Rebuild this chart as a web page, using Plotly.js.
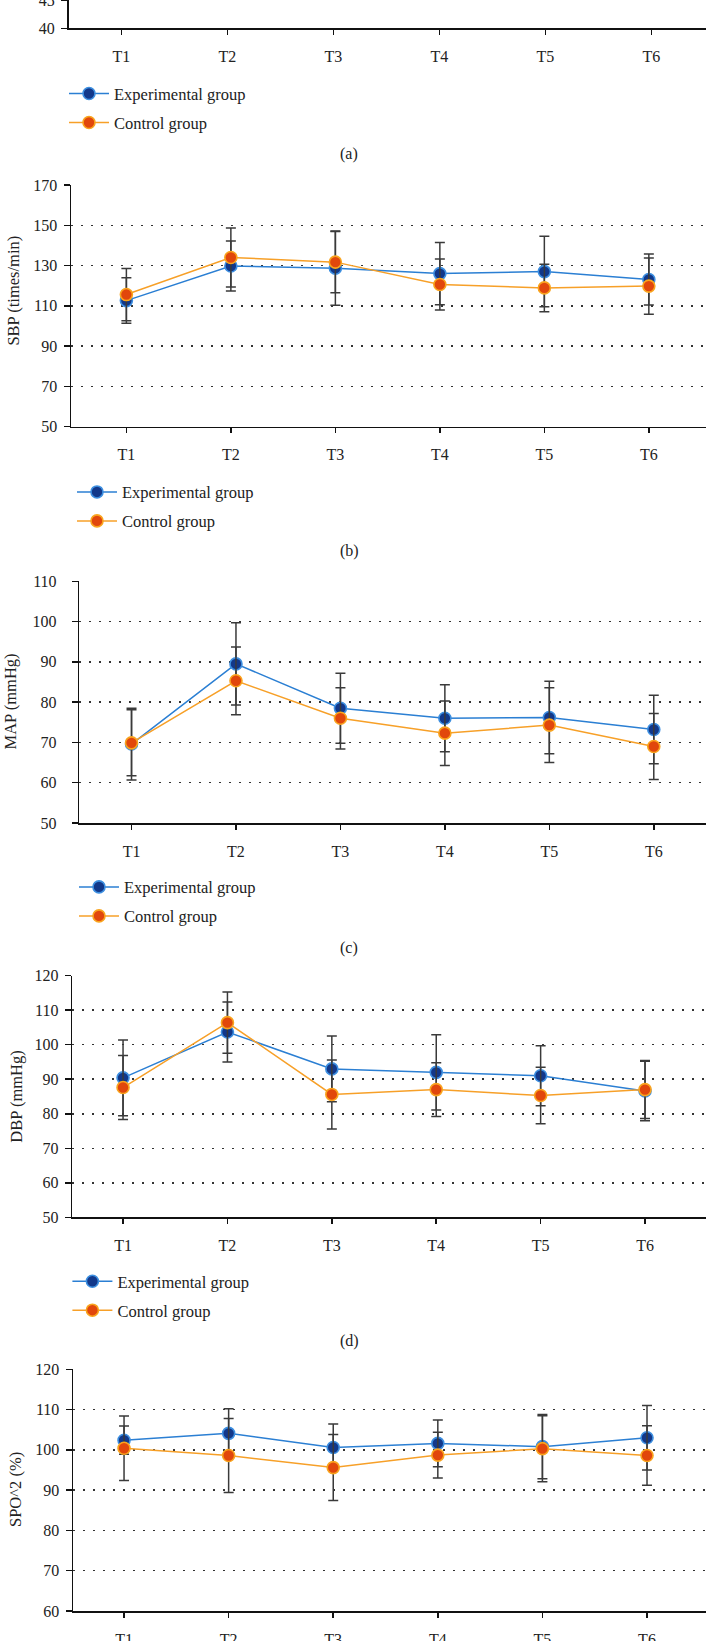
<!DOCTYPE html>
<html>
<head>
<meta charset="utf-8">
<script src="https://cdn.plot.ly/plotly-3.0.1.min.js"></script>
<style>
  html, body { margin: 0; padding: 0; background: #fff; }
  #chart { width: 706px; height: 1641px; }
</style>
</head>
<body>
<div id="chart"></div>
<script>
// time points, same for every panel
const times = ['T1', 'T2', 'T3', 'T4', 'T5', 'T6'];

// (b) SBP, mean and sd
const sbp_exp = [112.6, 129.8, 128.7, 126.0, 127.0, 123.1];
const sbp_exp_sd = [11.3, 12.4, 18.4, 15.4, 17.5, 12.7];
const sbp_ctl = [115.6, 134.0, 131.7, 120.6, 118.9, 119.8];
const sbp_ctl_sd = [13.0, 14.7, 15.2, 12.7, 11.8, 14.0];

// (c) MAP
const map_exp = [69.6, 89.5, 78.5, 76.0, 76.2, 73.2];
const map_exp_sd = [8.9, 10.2, 8.7, 8.3, 9.0, 8.5];
const map_ctl = [69.9, 85.3, 76.0, 72.3, 74.3, 69.0];
const map_ctl_sd = [8.2, 8.4, 7.6, 8.0, 9.3, 8.2];

// (d) DBP
const dbp_exp = [90.4, 103.7, 93.0, 92.0, 91.0, 86.6];
const dbp_exp_sd = [11.0, 8.7, 9.5, 10.9, 8.7, 8.6];
const dbp_ctl = [87.6, 106.4, 85.6, 87.0, 85.3, 87.0];
const dbp_ctl_sd = [9.3, 8.9, 10.0, 7.8, 8.2, 8.4];

// (e) SpO2
const spo_exp = [102.4, 104.1, 100.6, 101.6, 100.8, 103.0];
const spo_exp_sd = [3.5, 6.1, 5.8, 5.8, 8.0, 8.0];
const spo_ctl = [100.4, 98.6, 95.6, 98.7, 100.3, 98.6];
const spo_ctl_sd = [8.0, 9.2, 8.2, 5.7, 8.2, 7.4];

// (a) is cut off by the page, only its x axis and legend are left
const none = times.map(() => null);

const W = 706, H = 1641;
const FONT = 'Liberation Serif';

const EXP = {line: '#2b7fd3', fill: '#12388a', edge: '#3d8fe0'};
const CTL = {line: '#f7a028', fill: '#e1470c', edge: '#f9a41e'};

// panel boxes in pixels of the page
let panels = [
  {left: 68.5, top: 0, bottom: 28.3, xr: [-0.5, 5.515], yr: [40, 45], dtick: 5,
   exp: none, exp_sd: none, ctl: none, ctl_sd: none,
   legend: {mx: 88, y: 93.3}, caption: {y: 154.3, text: '(a)'}},
  {left: 71, top: 185, bottom: 426.7, xr: [-0.53, 5.547], yr: [50, 170], dtick: 20,
   exp: sbp_exp, exp_sd: sbp_exp_sd, ctl: sbp_ctl, ctl_sd: sbp_ctl_sd,
   title: {x: 12.6, y: 291, text: 'SBP (times/min)'},
   legend: {mx: 96, y: 491.7}, caption: {y: 550.7, text: '(b)'}},
  {left: 79.3, top: 581.3, bottom: 823, xr: [-0.5, 5.5], yr: [50, 110], dtick: 10, standoff: 12,
   exp: map_exp, exp_sd: map_exp_sd, ctl: map_ctl, ctl_sd: map_ctl_sd,
   title: {x: 10, y: 701.5, text: 'MAP (mmHg)'},
   legend: {mx: 98, y: 886.7}, caption: {y: 948.3, text: '(c)'}},
  {left: 72.2, top: 975.7, bottom: 1217.3, xr: [-0.487, 5.584], yr: [50, 120], dtick: 10,
   exp: dbp_exp, exp_sd: dbp_exp_sd, ctl: dbp_ctl, ctl_sd: dbp_ctl_sd,
   title: {x: 17, y: 1096.7, text: 'DBP (mmHg)'},
   legend: {mx: 91.4, y: 1281}, caption: {y: 1340.7, text: '(d)'}},
  {left: 73, top: 1369.3, bottom: 1611, xr: [-0.488, 5.564], yr: [60, 120], dtick: 10,
   exp: spo_exp, exp_sd: spo_exp_sd, ctl: spo_ctl, ctl_sd: spo_ctl_sd,
   title: {x: 15, y: 1490, text: 'SPO^2 (%)'}}
];

let data = [];
let layout = {
  width: W, height: H,
  margin: {l: 0, r: 0, t: 0, b: 0},
  paper_bgcolor: '#fff', plot_bgcolor: '#fff',
  font: {family: FONT, size: 16, color: '#222'},
  annotations: []
};

function makeTrace(name, y, sd, col, n, p) {
  let t = {
    x: times, y: y, name: name,
    xaxis: 'x' + (n ? n + 1 : ''), yaxis: 'y' + (n ? n + 1 : ''),
    mode: 'lines+markers',
    line: {color: col.line, width: 1.5},
    marker: {size: 12, color: col.fill, line: {color: col.edge, width: 1.6}},
    error_y: {type: 'data', array: sd, visible: true, color: '#3a3a3a', thickness: 1.5, width: 5},
    hoverinfo: 'skip'
  };
  if (p.legend) {
    t.legend = 'legend' + (n ? n + 1 : '');
    t.legendgroup = name + n;
  } else {
    t.showlegend = false;
  }
  return t;
}

panels.forEach(function(p, n) {
  let sfx = n ? String(n + 1) : '';
  data.push(makeTrace('Experimental group', p.exp, p.exp_sd, EXP, n, p));
  data.push(makeTrace('Control group', p.ctl, p.ctl_sd, CTL, n, p));

  layout['xaxis' + sfx] = {
    domain: [p.left / W, 1], anchor: 'y' + sfx,
    type: 'category', range: p.xr,
    showline: true, linecolor: '#111', linewidth: 1.5,
    ticks: 'outside', ticklen: 5, tickwidth: 1.5, tickcolor: '#111',
    ticklabelstandoff: 8, ticklabeloverflow: 'allow',
    tickfont: {family: FONT, size: 16, color: '#222'},
    showgrid: false, zeroline: false, fixedrange: true
  };
  layout['yaxis' + sfx] = {
    domain: [1 - p.bottom / H, 1 - p.top / H], anchor: 'x' + sfx,
    range: p.yr, tick0: p.yr[0], dtick: p.dtick,
    showline: true, linecolor: '#111', linewidth: 1.5,
    ticks: 'outside', ticklen: 6, tickwidth: 1.5, tickcolor: '#111',
    ticklabelstandoff: p.standoff || 3, ticklabeloverflow: 'allow',
    tickfont: {family: FONT, size: 16, color: '#222'},
    showgrid: true, gridcolor: '#333', gridwidth: 1.5, griddash: '1.5px,8.5px',
    zeroline: false, fixedrange: true
  };

  if (p.legend) {
    layout['legend' + sfx] = {
      x: (p.legend.mx - 24) / W, xanchor: 'left',
      y: 1 - (p.legend.y - 17) / H, yanchor: 'top',
      bgcolor: 'rgba(0,0,0,0)', borderwidth: 0,
      font: {family: FONT, size: 16.5, color: '#222'},
      itemwidth: 40, traceorder: 'grouped', tracegroupgap: 4.5
    };
  }
  if (p.title) {
    layout.annotations.push({
      xref: 'paper', yref: 'paper', x: p.title.x / W, y: 1 - p.title.y / H,
      xanchor: 'center', yanchor: 'middle', textangle: -90, showarrow: false,
      text: p.title.text, font: {family: FONT, size: 16.5, color: '#222'}
    });
  }
  if (p.caption) {
    layout.annotations.push({
      xref: 'paper', yref: 'paper', x: 349 / W, y: 1 - p.caption.y / H,
      xanchor: 'center', yanchor: 'middle', showarrow: false,
      text: p.caption.text, font: {family: FONT, size: 16, color: '#222'}
    });
  }
});

Plotly.newPlot('chart', data, layout, {displayModeBar: false, staticPlot: true});
</script>
</body>
</html>
